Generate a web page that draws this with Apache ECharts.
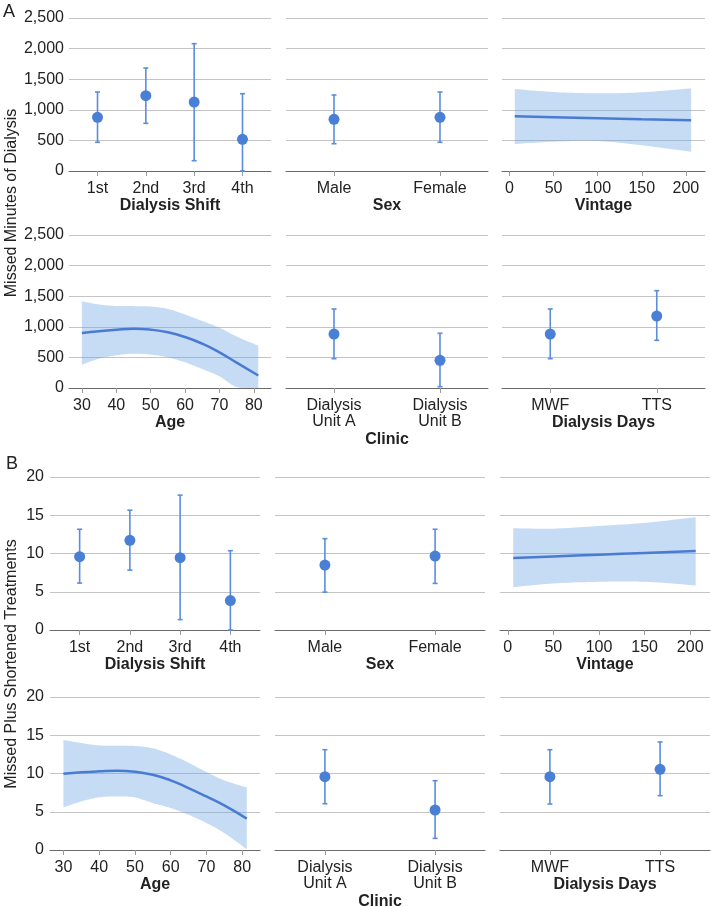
<!DOCTYPE html>
<html>
<head>
<meta charset="utf-8">
<script src="https://cdn.jsdelivr.net/npm/echarts@6/dist/echarts.min.js"></script>
<style>
html,body{margin:0;padding:0;background:#fff;}
#main{width:711px;height:907px;}
</style>
</head>
<body>
<div id="main"></div>
<script>
// ---------- categories / ticks ----------
const shiftCats = ['1st', '2nd', '3rd', '4th'];
const sexCats = ['Male', 'Female'];
const clinicCats = ['Dialysis\nUnit A', 'Dialysis\nUnit B'];
const daysCats = ['MWF', 'TTS'];
const vintageTicks = [0, 50, 100, 150, 200];
const ageTicks = [30, 40, 50, 60, 70, 80];
const vintageX = [6, 50, 100, 150, 206];
const ageX = [30, 35, 40, 45, 50, 55, 60, 65, 70, 75, 81.3];

// ---------- Panel A: Missed Minutes of Dialysis ----------
const minShiftMean = [877, 1231, 1127, 518];
const minShiftLow = [469, 779, 168, 0];
const minShiftHigh = [1291, 1683, 2080, 1263];
const minSexMean = [845, 877];
const minSexLow = [446, 469];
const minSexHigh = [1242, 1291];
const minClinicMean = [882, 452];
const minClinicLow = [479, 21];
const minClinicHigh = [1291, 894];
const minDaysMean = [882, 1176];
const minDaysLow = [479, 779];
const minDaysHigh = [1291, 1590];
const minVintageFit = [894, 880, 863, 846, 828];
const minVintageLow = [441, 479, 490, 420, 315];
const minVintageHigh = [1340, 1290, 1270, 1285, 1350];
const minAgeFit = [899, 928, 953, 968, 953, 910, 833, 724, 583, 415, 205];
const minAgeLow = [381, 479, 534, 561, 545, 501, 419, 310, 191, 15, 0];
const minAgeHigh = [1416, 1365, 1340, 1338, 1330, 1292, 1200, 1095, 985, 840, 692];

// ---------- Panel B: Missed Plus Shortened Treatments ----------
const trtShiftMean = [9.58, 11.73, 9.45, 3.85];
const trtShiftLow = [6.13, 7.83, 1.36, 0];
const trtShiftHigh = [13.17, 15.66, 17.63, 10.37];
const trtSexMean = [8.49, 9.67];
const trtSexLow = [4.95, 6.09];
const trtSexHigh = [11.94, 13.17];
const trtClinicMean = [9.58, 5.23];
const trtClinicLow = [6.05, 1.52];
const trtClinicHigh = [13.11, 9.06];
const trtDaysMean = [9.58, 10.54];
const trtDaysLow = [6.01, 7.10];
const trtDaysHigh = [13.11, 14.12];
const trtVintageFit = [9.41, 9.61, 9.84, 10.07, 10.33];
const trtVintageLow = [5.6, 6.09, 6.3, 6.3, 5.83];
const trtVintageHigh = [13.3, 13.25, 13.6, 14.0, 14.75];
const trtAgeFit = [9.97, 10.15, 10.28, 10.37, 10.24, 9.84, 9.1, 8.1, 7.0, 5.83, 4.1];
const trtAgeLow = [5.57, 6.35, 6.88, 7.0, 6.88, 6.14, 5.49, 4.61, 3.52, 2.22, 0.1];
const trtAgeHigh = [14.38, 13.98, 13.67, 13.63, 13.6, 13.3, 12.5, 11.4, 10.2, 9.1, 8.18];

// ---------- styling / layout ----------
const FONT = '"Liberation Sans", Arial, Helvetica, sans-serif';
const TXT = '#222';
const DOT = '#4a7fd6';
const BAR = '#5b8ddd';
const BAND = 'rgba(112,165,228,0.4)';
const FIT = '#4a7bd3';
const rowTop = [18, 235, 477, 697];
const rowH = 153;
const colsA = [[69, 202], [286, 202], [502, 203]];
const colsB = [[50, 210], [275, 210], [500, 210]];

const grids = [], xAxes = [], yAxes = [], series = [];

function fmtThousands(v) { return Number(v).toLocaleString('en-US'); }

// smooth pixel-space curve through projected points (rendering only)
function smoothPixels(pts) {
  const out = [];
  const n = pts.length;
  const seg = 12;
  for (let i = 0; i < n - 1; i++) {
    const p0 = pts[Math.max(i - 1, 0)], p1 = pts[i], p2 = pts[i + 1], p3 = pts[Math.min(i + 2, n - 1)];
    for (let s = 0; s < seg; s++) {
      const t = s / seg, t2 = t * t, t3 = t2 * t;
      const f = (a, b, c, d) => 0.5 * ((2 * b) + (-a + c) * t + (2 * a - 5 * b + 4 * c - d) * t2 + (-a + 3 * b - 3 * c + d) * t3);
      out.push([f(p0[0], p1[0], p2[0], p3[0]), f(p0[1], p1[1], p2[1], p3[1])]);
    }
  }
  out.push(pts[n - 1]);
  return out;
}

function addPanel(row, col, spec) {
  const g = grids.length;
  const cols = row < 2 ? colsA : colsB;
  grids.push({ left: cols[col][0], width: cols[col][1], top: rowTop[row], height: rowH, outerBoundsMode: 'none', containLabel: false });
  const isA = row < 2;
  yAxes.push({
    gridIndex: g, type: 'value', min: 0, max: isA ? 2500 : 20, interval: isA ? 500 : 5,
    axisLine: { show: false }, axisTick: { show: false },
    axisLabel: { show: col === 0, fontSize: 16, color: TXT, fontFamily: FONT, margin: isA ? 5 : 6,
      formatter: isA ? fmtThousands : (v) => String(v) },
    splitLine: { show: true, lineStyle: { color: '#c4c4c4', width: 1 } }
  });
  let xmin, xmax, ticks, fmt;
  if (spec.cats) {
    const n = spec.cats.length;
    ticks = spec.cats.map((c, i) => i + 1);
    if (n === 4) { xmin = 0.41; xmax = 4.59; } else { xmin = 0.547; xmax = 2.453; }
    fmt = (v) => spec.cats[Math.round(v) - 1];
  } else {
    ticks = spec.ticks; xmin = spec.xmin; xmax = spec.xmax;
    fmt = (v) => String(v);
  }
  xAxes.push({
    gridIndex: g, type: 'value', min: xmin, max: xmax,
    axisLine: { show: true, onZero: false, lineStyle: { color: '#6b6b6b', width: 1 } },
    axisTick: { show: true, length: 5, customValues: ticks, lineStyle: { color: '#9a9a9a' } },
    axisLabel: { customValues: ticks, formatter: fmt, fontSize: 16, color: TXT, fontFamily: FONT, margin: 10, lineHeight: 16 },
    splitLine: { show: false },
    name: spec.name, nameLocation: 'middle', nameGap: spec.nameGap || 27,
    nameTextStyle: { fontSize: 16, fontWeight: 'bold', color: TXT, fontFamily: FONT }
  });
  if (spec.cats) {
    series.push({
      type: 'custom', xAxisIndex: g, yAxisIndex: g, z: 2, clip: false,
      encode: { x: 0, y: [1, 2] },
      data: spec.cats.map((c, i) => [i + 1, spec.low[i], spec.high[i]]),
      renderItem: function (params, api) {
        const x = api.value(0);
        const p1 = api.coord([x, api.value(1)]);
        const p2 = api.coord([x, api.value(2)]);
        const st = { stroke: BAR, lineWidth: 1.6 };
        return { type: 'group', children: [
          { type: 'line', shape: { x1: p1[0], y1: p1[1], x2: p2[0], y2: p2[1] }, style: st },
          { type: 'line', shape: { x1: p1[0] - 2.5, y1: p1[1], x2: p1[0] + 2.5, y2: p1[1] }, style: st },
          { type: 'line', shape: { x1: p2[0] - 2.5, y1: p2[1], x2: p2[0] + 2.5, y2: p2[1] }, style: st }
        ] };
      }
    });
    series.push({
      type: 'scatter', xAxisIndex: g, yAxisIndex: g, z: 3, symbolSize: 11,
      itemStyle: { color: DOT, opacity: 1 },
      data: spec.cats.map((c, i) => [i + 1, spec.mean[i]])
    });
  } else {
    const rows = spec.x.map((x, i) => [x, spec.low[i], spec.high[i]]);
    series.push({
      type: 'custom', xAxisIndex: g, yAxisIndex: g, z: 1, clip: true,
      encode: { x: 0, y: [1, 2] },
      data: rows,
      renderItem: function (params, api) {
        if (params.dataIndex !== 0) return null;
        const upper = smoothPixels(rows.map(r => api.coord([r[0], r[2]])));
        const lower = smoothPixels(rows.map(r => api.coord([r[0], r[1]])));
        const cs = params.coordSys;
        const bottom = cs.y + cs.height;
        const poly = upper.concat(lower.reverse()).map(p => [p[0], Math.min(p[1], bottom)]);
        return { type: 'polygon', shape: { points: poly }, style: { fill: BAND, stroke: null } };
      }
    });
    series.push({
      type: 'line', xAxisIndex: g, yAxisIndex: g, smooth: true, symbol: 'none', z: 3,
      lineStyle: { color: FIT, width: 2.5 },
      data: spec.x.map((x, i) => [x, spec.fit[i]])
    });
  }
}

// Panel A
addPanel(0, 0, { cats: shiftCats, mean: minShiftMean, low: minShiftLow, high: minShiftHigh, name: 'Dialysis Shift' });
addPanel(0, 1, { cats: sexCats, mean: minSexMean, low: minSexLow, high: minSexHigh, name: 'Sex' });
addPanel(0, 2, { x: vintageX, fit: minVintageFit, low: minVintageLow, high: minVintageHigh, ticks: vintageTicks, xmin: -8.5, xmax: 221.7, name: 'Vintage' });
addPanel(1, 0, { x: ageX, fit: minAgeFit, low: minAgeLow, high: minAgeHigh, ticks: ageTicks, xmin: 26.25, xmax: 85, name: 'Age' });
addPanel(1, 1, { cats: clinicCats, mean: minClinicMean, low: minClinicLow, high: minClinicHigh, name: 'Clinic', nameGap: 44 });
addPanel(1, 2, { cats: daysCats, mean: minDaysMean, low: minDaysLow, high: minDaysHigh, name: 'Dialysis Days' });
// Panel B
addPanel(2, 0, { cats: shiftCats, mean: trtShiftMean, low: trtShiftLow, high: trtShiftHigh, name: 'Dialysis Shift' });
addPanel(2, 1, { cats: sexCats, mean: trtSexMean, low: trtSexLow, high: trtSexHigh, name: 'Sex' });
addPanel(2, 2, { x: vintageX, fit: trtVintageFit, low: trtVintageLow, high: trtVintageHigh, ticks: vintageTicks, xmin: -8.5, xmax: 221.7, name: 'Vintage' });
addPanel(3, 0, { x: ageX, fit: trtAgeFit, low: trtAgeLow, high: trtAgeHigh, ticks: ageTicks, xmin: 26.25, xmax: 85, name: 'Age' });
addPanel(3, 1, { cats: clinicCats, mean: trtClinicMean, low: trtClinicLow, high: trtClinicHigh, name: 'Clinic', nameGap: 44 });
addPanel(3, 2, { cats: daysCats, mean: trtDaysMean, low: trtDaysLow, high: trtDaysHigh, name: 'Dialysis Days' });

const chart = echarts.init(document.getElementById('main'), null, { renderer: 'canvas' });
chart.setOption({
  animation: false,
  backgroundColor: '#ffffff',
  textStyle: { fontFamily: FONT },
  grid: grids,
  xAxis: xAxes,
  yAxis: yAxes,
  series: series,
  graphic: [
    { type: 'text', left: 3, top: 3, style: { text: 'A', font: '18px ' + FONT, fill: TXT } },
    { type: 'text', left: 6, top: 455, style: { text: 'B', font: '18px ' + FONT, fill: TXT } },
    { type: 'text', x: 12, y: 203, rotation: Math.PI / 2,
      style: { text: 'Missed Minutes of Dialysis', font: '16px ' + FONT, fill: TXT, textAlign: 'center', textVerticalAlign: 'middle' } },
    { type: 'text', x: 12, y: 664, rotation: Math.PI / 2,
      style: { text: 'Missed Plus Shortened Treatments', font: '16px ' + FONT, fill: TXT, textAlign: 'center', textVerticalAlign: 'middle' } }
  ]
});
</script>
</body>
</html>
